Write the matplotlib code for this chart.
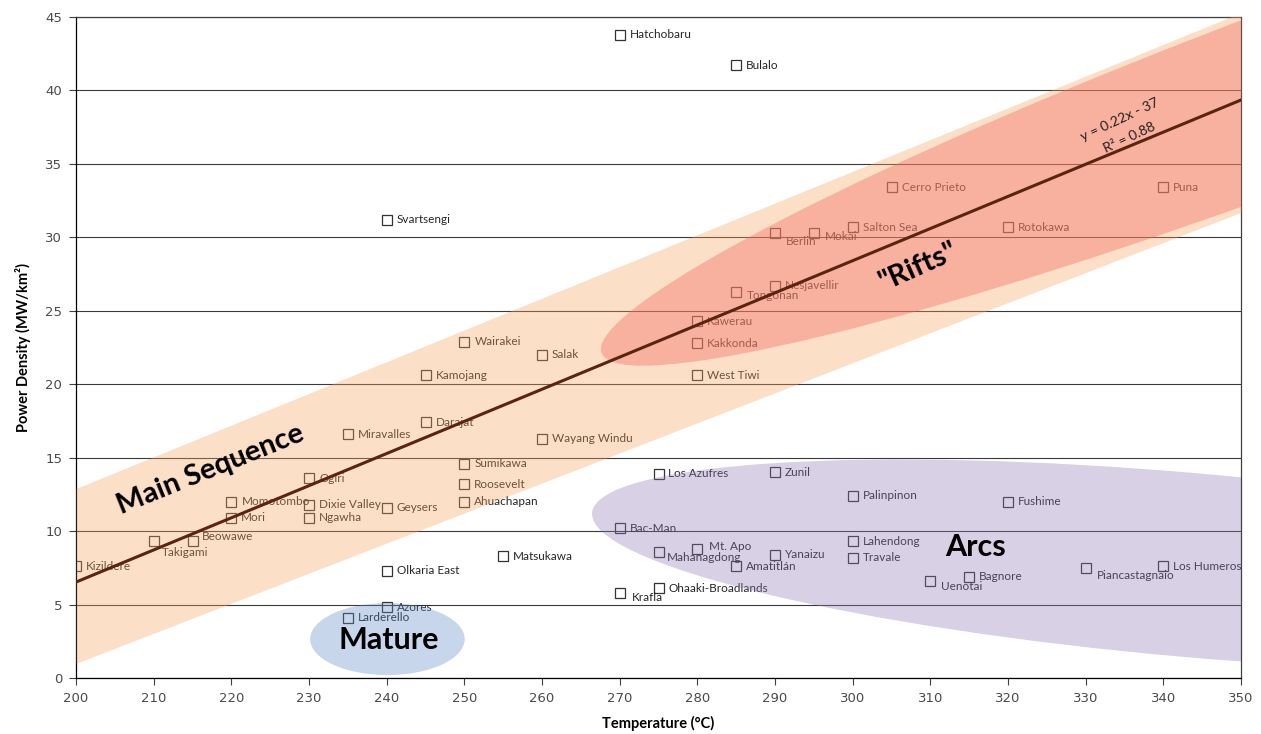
import numpy as np
import matplotlib
matplotlib.use("Agg")
import matplotlib.pyplot as plt
from matplotlib.patches import Ellipse
from matplotlib.transforms import Affine2D

# ---------------- data ----------------
names = ["Hatchobaru", "Bulalo", "Svartsengi", "Cerro Prieto", "Puna", "Salton Sea",
         "Rotokawa", "Berlin", "Mokai", "Nesjavellir", "Tongonan", "Kawerau", "Kakkonda",
         "West Tiwi", "Wairakei", "Salak", "Kamojang", "Darajat", "Miravalles",
         "Wayang Windu", "Sumikawa", "Roosevelt", "Ahuachapan", "Ogiri", "Dixie Valley",
         "Ngawha", "Geysers", "Momotombo", "Mori", "Beowawe", "Takigami", "Kizildere",
         "Matsukawa", "Olkaria East", "Azores", "Larderello", "Los Azufres", "Zunil",
         "Palinpinon", "Fushime", "Bac-Man", "Mahanagdong", "Mt. Apo", "Amatitlán",
         "Yanaizu", "Lahendong", "Travale", "Ohaaki-Broadlands", "Krafla", "Uenotai",
         "Bagnore", "Piancastagnaio", "Los Humeros"]
temperature = [270, 285, 240, 305, 340, 300, 320, 290, 295, 290, 285, 280, 280,
               280, 250, 260, 245, 245, 235, 260, 250, 250, 250, 230, 230,
               230, 240, 220, 220, 215, 210, 200, 255, 240, 240, 235, 275, 290,
               300, 320, 270, 275, 280, 285, 290, 300, 300, 275, 270, 310,
               315, 330, 340]
power_density = [43.8, 41.7, 31.2, 33.4, 33.4, 30.7, 30.7, 30.3, 30.3, 26.7, 26.3, 24.3, 22.8,
                 20.6, 22.9, 22.0, 20.6, 17.4, 16.6, 16.3, 14.6, 13.2, 12.0, 13.6, 11.8,
                 10.9, 11.6, 12.0, 10.9, 9.3, 9.3, 7.6, 8.3, 7.3, 4.8, 4.1, 13.9, 14.0,
                 12.4, 12.0, 10.2, 8.6, 8.8, 7.6, 8.4, 9.3, 8.2, 6.1, 5.8, 6.6,
                 6.9, 7.5, 7.6]

x_ticks = list(range(200, 351, 10))
y_ticks = list(range(0, 46, 5))

trend_slope = 0.2188
trend_intercept = -37.23
trend_x = [200, 350]

band_x = [200, 350]
band_lower = [1.0, 31.7]
band_upper = [12.9, 45.3]

# ---------------- layout / style ----------------
W_PX, H_PX = 1261, 734
L, R, T, B = 76, 1241, 17, 678
fig = plt.figure(figsize=(W_PX / 100, H_PX / 100), dpi=100)
ax = fig.add_axes([L / W_PX, 1 - B / H_PX, (R - L) / W_PX, (B - T) / H_PX])
ax.set_xlim(200, 350)
ax.set_ylim(0, 45)
ax.set_xticks(x_ticks)
ax.set_yticks(y_ticks)
ax.yaxis.grid(True, color='#3a3a3a', lw=0.8, zorder=0)
ax.set_axisbelow(True)
ax.tick_params(direction='out', length=5, width=0.8, labelsize=9.5,
               labelcolor='#4a4a4a', color='#404040', pad=5)
for s in ax.spines.values():
    s.set_color('#404040')
    s.set_linewidth(0.9)
ax.spines['left'].set_color('black')
ax.spines['bottom'].set_color('black')

ax.set_xlabel("Temperature (°C)", fontfamily='Lato', fontweight='bold', fontsize=10.5, labelpad=8)
ax.set_ylabel("Power Density (MW/km²)", fontfamily='Lato', fontweight='bold', fontsize=10.5, labelpad=10)

# points
ax.plot(temperature, power_density, 's', mfc='none', mec='#333333', ms=6.5, mew=0.9, zorder=2)

# label offsets in pixels (dx right, dy down) for labels not placed at default
px_off = {"Berlin": (11, 9), "Mokai": (11, 4), "Tongonan": (11, 4), "Takigami": (8, 11),
          "Beowawe": (9, -5), "Krafla": (12, 5), "Mahanagdong": (8, 6), "Mt. Apo": (12, -2),
          "Uenotai": (11, 5), "Piancastagnaio": (11, 8), "Momotombo": (11, 0)}
for n, t, p in zip(names, temperature, power_density):
    dx, dy = px_off.get(n, (10, 0))
    ax.annotate(n, (t, p), xytext=(dx * 0.72, -dy * 0.72), textcoords='offset points',
                ha='left', va='center', fontsize=8.5, fontfamily='Lato', color='#262626', zorder=2)

# overlays
ry = ((B - T) / 45) / ((R - L) / 150)
iso = Affine2D().scale(1, 1 / ry) + ax.transData
ax.fill_between(band_x, band_lower, band_upper, color='#F6A45F', alpha=0.35, lw=0, zorder=3)
ax.add_patch(Ellipse((357.6, 39.9 * ry), 192, 22.6, angle=20.5, transform=iso,
                     fc='#F46A65', alpha=0.4, lw=0, zorder=3))
ax.add_patch(Ellipse((343.4, 7.69 * ry), 154.5, 23.7, angle=-5, transform=iso,
                     fc='#9079B2', alpha=0.35, lw=0, zorder=3))
ax.add_patch(Ellipse((240.1, 2.65 * ry), 19.9, 9.27, angle=0, transform=iso,
                     fc='#5F8AC3', alpha=0.35, lw=0, zorder=3))

# trend line
tx = np.array(trend_x, dtype=float)
ax.plot(tx, trend_slope * tx + trend_intercept, color='#5a2410', lw=2.2, zorder=4)
ax.text(334.4, 38.0, "y = 0.22x - 37", rotation=25, ha='center', va='center',
        fontsize=10, fontfamily='Lato', color='#202020', zorder=5, rotation_mode='anchor')
ax.text(335.6, 36.76, "R² = 0.88", rotation=25, ha='center', va='center',
        fontsize=10, fontfamily='Lato', color='#202020', zorder=5, rotation_mode='anchor')

# region labels
big = dict(fontfamily='Lato', fontweight='bold', color='black', zorder=5,
           ha='center', va='center', rotation_mode='anchor')
ax.text(217.3, 14.2, "Main Sequence", rotation=22, fontsize=21, **big)
ax.text(308.4, 28.0, '"Rifts"', rotation=24, fontsize=21, **big)
ax.text(315.8, 8.9, "Arcs", rotation=0, fontsize=22, **big)
ax.text(240.3, 2.6, "Mature", rotation=0, fontsize=22, **big)

fig.savefig("out.png", dpi=100)
